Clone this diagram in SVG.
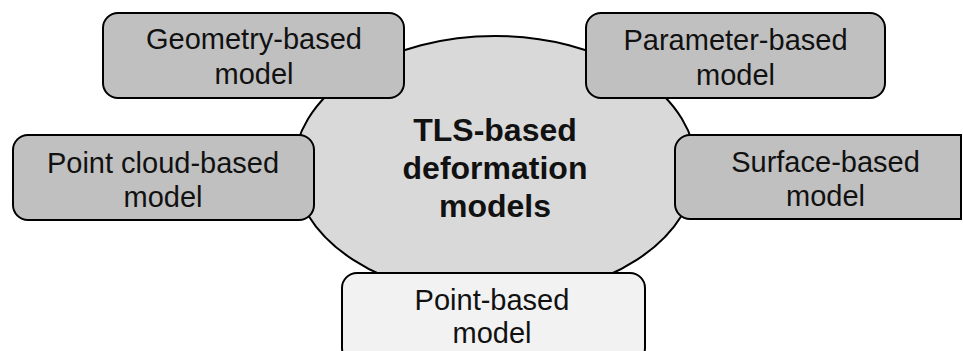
<svg xmlns="http://www.w3.org/2000/svg" width="963" height="351" viewBox="0 0 963 351">
<style>
.box{fill:#c0c0c0;stroke:#000;stroke-width:2}
.light{fill:#f2f2f2;stroke:#000;stroke-width:2}
.hub{fill:#d9d9d9;stroke:#000;stroke-width:2}
.t{font-family:"Liberation Sans",Arial,sans-serif;font-size:29px;fill:#111;text-anchor:middle}
.tb{font-family:"Liberation Sans",Arial,sans-serif;font-size:32px;font-weight:bold;fill:#111;text-anchor:middle}
</style>
<rect width="963" height="351" fill="#fff"/>
<g id="hub">
<ellipse class="hub" cx="495" cy="167" rx="201" ry="131"/>
<text class="tb" x="495" y="141">TLS-based</text>
<text class="tb" x="495" y="179">deformation</text>
<text class="tb" x="495" y="217">models</text>
</g>
<g id="connectors"></g>
<g id="geometry">
<rect class="box" x="103" y="13" width="301" height="85" rx="15"/>
<text class="t" x="254" y="49">Geometry-based</text>
<text class="t" x="254" y="84">model</text>
</g>
<g id="parameter">
<rect class="box" x="586" y="13" width="299" height="85" rx="15"/>
<text class="t" x="735.5" y="50">Parameter-based</text>
<text class="t" x="735.5" y="85">model</text>
</g>
<g id="pointcloud">
<rect class="box" x="13" y="135" width="301" height="85" rx="15"/>
<text class="t" x="163" y="173">Point cloud-based</text>
<text class="t" x="163" y="207">model</text>
</g>
<g id="surface">
<path class="box" d="M961,135 H690 A15,15 0 0 0 675,150 V204 A15,15 0 0 0 690,219 H961 Z"/>
<text class="t" x="825.5" y="172">Surface-based</text>
<text class="t" x="825.5" y="206">model</text>
</g>
<g id="point">
<rect class="light" x="342" y="273" width="303" height="90" rx="15"/>
<text class="t" x="492" y="310">Point-based</text>
<text class="t" x="492" y="343">model</text>
</g>
</svg>
